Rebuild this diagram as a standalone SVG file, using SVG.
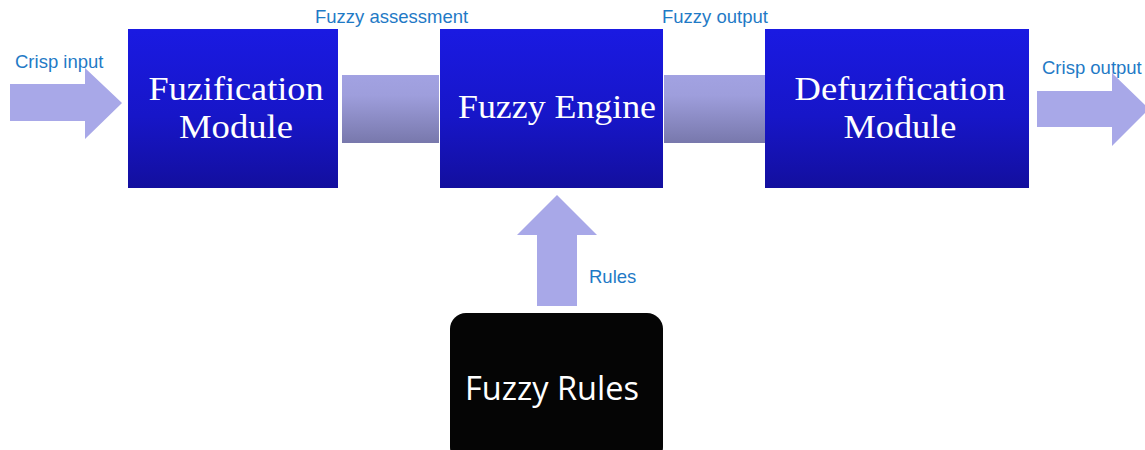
<svg xmlns="http://www.w3.org/2000/svg" width="1145" height="450" viewBox="0 0 1145 450">
  <defs>
    <linearGradient id="boxFill" x1="0" y1="0" x2="0" y2="1">
      <stop offset="0" stop-color="#1a1ae2"/>
      <stop offset="0.55" stop-color="#1716c8"/>
      <stop offset="1" stop-color="#130f9e"/>
    </linearGradient>
    <linearGradient id="linkFill" x1="0" y1="0" x2="0" y2="1">
      <stop offset="0" stop-color="#a2a2e2"/>
      <stop offset="0.3" stop-color="#9e9edc"/>
      <stop offset="1" stop-color="#7878ac"/>
    </linearGradient>
    <style>
      .box { fill: url(#boxFill); }
      .link { fill: url(#linkFill); }
      .arrow { fill: #a8a8e8; }
      .boxText { font-family: "Liberation Serif", "DejaVu Serif", serif; font-size: 33px; fill: #ffffff; text-anchor: middle; }
      .label { font-family: "Liberation Sans", Arial, sans-serif; font-size: 18.5px; fill: #1f7ac6; }
      .rulesText { font-family: "Open Sans", "Liberation Sans", sans-serif; font-size: 32.5px; fill: #ffffff; text-anchor: middle; }
    </style>
  </defs>

  <rect width="1145" height="450" fill="#ffffff"/>

  <!-- connectors -->
  <g id="connectors">
    <!-- crisp input arrow -->
    <polygon class="arrow" points="10,84 85,84 85,68 122,103 85,139 85,121 10,121"/>
    <!-- fuzzy assessment band -->
    <rect class="link" x="342" y="75" width="97" height="68"/>
    <!-- fuzzy output band -->
    <rect class="link" x="664" y="75" width="101" height="68"/>
    <!-- crisp output arrow -->
    <polygon class="arrow" points="1037,91 1112,91 1112,73 1149,109 1112,146 1112,127 1037,127"/>
    <!-- rules arrow -->
    <polygon class="arrow" points="557,195 597,235 577,235 577,306 537,306 537,235 517,235"/>
    <text class="label" x="15" y="68">Crisp input</text>
    <text class="label" x="315" y="23">Fuzzy assessment</text>
    <text class="label" x="662" y="23">Fuzzy output</text>
    <text class="label" x="1042" y="74">Crisp output</text>
    <text class="label" x="589" y="283">Rules</text>
  </g>

  <g id="fuzification">
    <rect class="box" x="128" y="29" width="210" height="159"/>
    <text class="boxText" x="236" y="100" textLength="175" lengthAdjust="spacingAndGlyphs">Fuzification</text>
    <text class="boxText" x="236" y="138" textLength="114" lengthAdjust="spacingAndGlyphs">Module</text>
  </g>

  <g id="fuzzy-engine">
    <rect class="box" x="440" y="29" width="223" height="159"/>
    <text class="boxText" x="557" y="118" textLength="198" lengthAdjust="spacingAndGlyphs">Fuzzy Engine</text>
  </g>

  <g id="defuzification">
    <rect class="box" x="765" y="29" width="264" height="159"/>
    <text class="boxText" x="900" y="100" textLength="211" lengthAdjust="spacingAndGlyphs">Defuzification</text>
    <text class="boxText" x="900" y="138" textLength="113" lengthAdjust="spacingAndGlyphs">Module</text>
  </g>

  <g id="fuzzy-rules">
    <rect x="450" y="313" width="213" height="150" rx="16" ry="16" fill="#050505"/>
    <text class="rulesText" x="552" y="400">Fuzzy Rules</text>
  </g>
</svg>
